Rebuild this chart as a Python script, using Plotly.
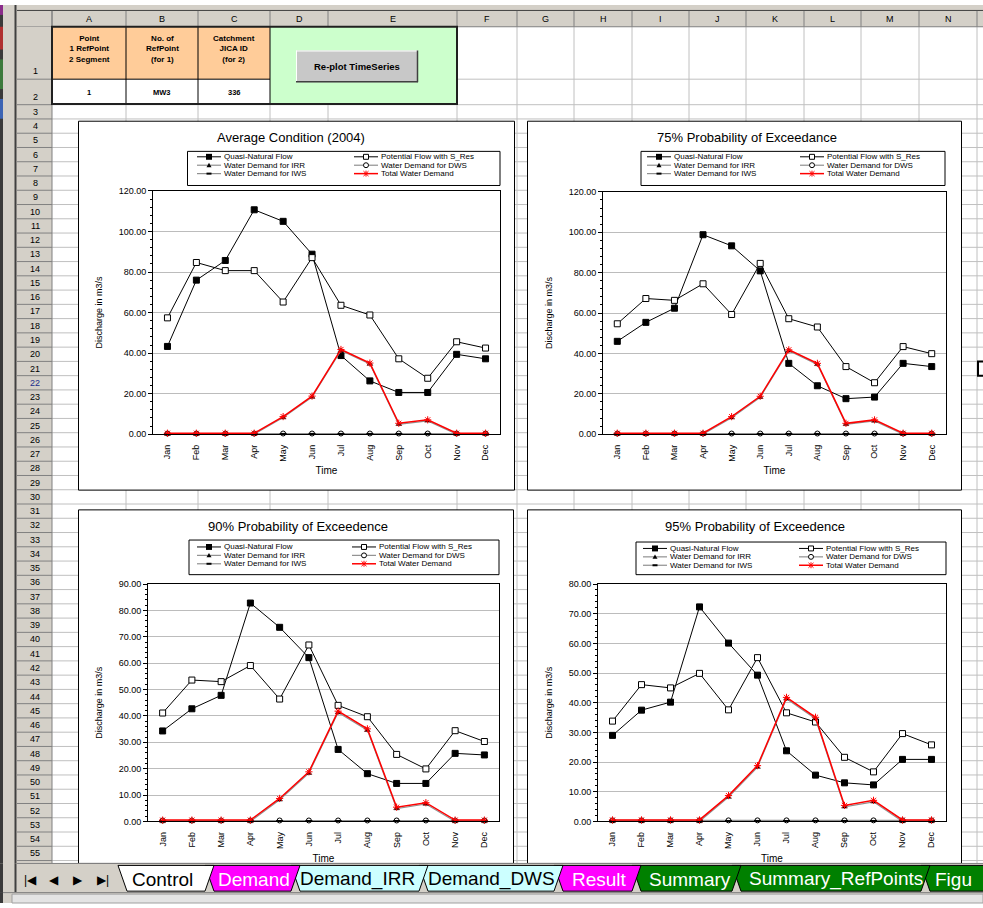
import plotly.graph_objects as go

# ---------------------------------------------------------------- data
months = ["Jan", "Feb", "Mar", "Apr", "May", "Jun",
          "Jul", "Aug", "Sep", "Oct", "Nov", "Dec"]

avg_natural = [43.3, 76.0, 85.7, 110.7, 105.0, 88.8, 38.8, 26.3, 20.6, 20.6, 39.4, 37.2]
avg_potential = [57.4, 84.7, 80.7, 80.7, 65.2, 87.1, 63.6, 58.8, 37.2, 27.6, 45.6, 42.5]

p75_natural = [46.0, 55.4, 62.4, 98.8, 93.3, 80.9, 35.1, 24.0, 17.6, 18.4, 35.1, 33.5]
p75_potential = [54.7, 67.2, 66.3, 74.5, 59.3, 84.6, 57.2, 53.1, 33.5, 25.5, 43.4, 39.9]

p90_natural = [34.3, 42.7, 47.8, 82.8, 73.6, 62.1, 27.3, 18.1, 14.4, 14.4, 25.8, 25.2]
p90_potential = [41.1, 53.6, 53.0, 59.1, 46.4, 66.9, 44.0, 39.7, 25.4, 19.9, 34.4, 30.3]

p95_natural = [29.0, 37.5, 40.2, 72.3, 60.1, 49.3, 23.8, 15.6, 13.0, 12.3, 20.9, 20.9]
p95_potential = [33.8, 46.1, 45.0, 49.9, 37.6, 55.2, 36.6, 33.5, 21.6, 16.7, 29.6, 25.8]

demand_irr = [0.0, 0.0, 0.0, 0.0, 8.2, 18.3, 41.3, 34.6, 4.9, 6.6, 0.0, 0.0]
demand_dws = [0.35, 0.35, 0.35, 0.35, 0.35, 0.35, 0.35, 0.35, 0.35, 0.35, 0.35, 0.35]
demand_iws = [0.15, 0.15, 0.15, 0.15, 0.15, 0.15, 0.15, 0.15, 0.15, 0.15, 0.15, 0.15]
demand_total = [0.5, 0.5, 0.5, 0.5, 8.7, 18.8, 41.8, 35.1, 5.4, 7.1, 0.5, 0.5]

series_names = ["Quasi-Natural Flow", "Potential Flow with S_Res",
                "Water Demand for IRR", "Water Demand for DWS",
                "Water Demand for IWS", "Total Water Demand"]

chart_titles = ["Average Condition (2004)", "75% Probability of Exceedance",
                "90% Probability of Exceedence", "95% Probability of Exceedence"]

col_letters = list("ABCDEFGHIJKLMN")
sheet_tabs = ["Control", "Demand", "Demand_IRR", "Demand_DWS", "Result",
              "Summary", "Summary_RefPoints", "Figu"]

# ---------------------------------------------------------------- helpers
W, H = 983, 908
FONT = "Liberation Sans, Arial, sans-serif"
HEAD = "#d4d0c8"
GRID = "#c0c0c0"


def X(p):
    return p / W


def Y(p):
    return 1 - p / H


shapes, annos = [], []


def rect(x0, y0, x1, y1, fill="rgba(0,0,0,0)", line=None, lw=1, layer="below"):
    shapes.append(dict(type="rect", xref="paper", yref="paper",
                       x0=X(x0), x1=X(x1), y0=Y(y1), y1=Y(y0),
                       fillcolor=fill, layer=layer,
                       line=dict(color=line if line else "rgba(0,0,0,0)",
                                 width=lw if line else 0)))


def seg(x0, y0, x1, y1, color, lw=1, layer="below"):
    shapes.append(dict(type="line", xref="paper", yref="paper",
                       x0=X(x0), x1=X(x1), y0=Y(y0), y1=Y(y1),
                       line=dict(color=color, width=lw), layer=layer))


def poly(pts, fill="rgba(0,0,0,0)", line=None, lw=1, layer="above", close=True):
    d = "M " + " L ".join(f"{X(a):.5f},{Y(b):.5f}" for a, b in pts)
    if close:
        d += " Z"
    shapes.append(dict(type="path", xref="paper", yref="paper", path=d,
                       fillcolor=fill, layer=layer,
                       line=dict(color=line if line else "rgba(0,0,0,0)",
                                 width=lw if line else 0)))


def label(x, y, s, size, color="black", xa="center", ya="middle", bold=False):
    annos.append(dict(xref="paper", yref="paper", x=X(x), y=Y(y),
                      text=f"<b>{s}</b>" if bold else s, showarrow=False,
                      xanchor=xa, yanchor=ya, borderpad=0,
                      font=dict(family=FONT, size=size, color=color)))


# ---------------------------------------------------------------- worksheet
col_edges = [52, 126, 198, 270, 328, 457, 517, 574, 632, 689, 746, 804, 861, 919, 977]
row_edges = [22, 75] + [100.8 + 14.42 * k for k in range(54)]
SHEET_BOTTOM = 868

# window frame at left / top
rect(0, 0, 983, 6, fill=HEAD)
rect(0, 0, 17, 908, fill=HEAD)
rect(0, 0, 3, 908, fill="#3a3a3a")
rect(0, 0, 3, 10, fill="#8a2c8a")
rect(0, 22, 3, 45, fill="#b03030")
rect(0, 55, 3, 85, fill="#3c7a3c")
rect(0, 95, 3, 115, fill="#3c64b4")
seg(15.5, 0, 15.5, 908, "#404040", 2)
seg(17, 5.5, 983, 5.5, "#404040", 1)

# cell grid
for e in col_edges[1:]:
    seg(e, 22, e, SHEET_BOTTOM, GRID)
for e in row_edges[1:]:
    seg(52, e, 983, e, GRID)

# column headers
rect(17, 6, 983, 22, fill=HEAD)
for e in col_edges:
    seg(e, 6, e, 22, "#808080")
seg(17, 22, 983, 22, "#808080")
for i, name in enumerate(col_letters):
    label((col_edges[i] + col_edges[i + 1]) / 2, 14, name, 9)

# row headers
rect(17, 22, 52, SHEET_BOTTOM, fill=HEAD)
seg(52, 6, 52, SHEET_BOTTOM, "#808080")
for e in row_edges[1:]:
    seg(17, e, 52, e, "#808080")
for r in range(1, len(row_edges)):
    top, bot = row_edges[r - 1], row_edges[r]
    if r <= 2:
        yy, ya = bot - 2, "bottom"
    else:
        yy, ya = (top + bot) / 2, "middle"
    label(35, yy, str(r), 9, color="#1c2e8c" if r == 22 else "black", ya=ya)

# active cell outline just right of column N on row 22
rect(978, row_edges[20], 995, row_edges[21], line="black", lw=2)

# control block A1:E2
rect(52, 22, 270, 75, fill="#ffcc99")
rect(52, 75, 270, 100, fill="white")
rect(270, 22, 457, 100, fill="#ccffcc")
for e in (126, 198, 270):
    seg(e, 22, e, 100, "black", 1)
seg(52, 75, 270, 75, "black", 1)
rect(52, 22, 457, 100, line="#202020", lw=2)
label(89, 44, "Point<br>1 RefPoint<br>2 Segment", 8, bold=True)
label(162, 44, "No. of<br>RefPoint<br>(for 1)", 8, bold=True)
label(234, 44, "Catchment<br>JICA ID<br>(for 2)", 8, bold=True)
label(89, 88, "1", 7.5, bold=True)
label(162, 88, "MW3", 7.5, bold=True)
label(234, 88, "336", 7.5, bold=True)
# button
rect(296, 46, 418, 78, fill="#c8c8c8")
seg(296, 46.5, 418, 46.5, "white")
seg(296.5, 46, 296.5, 78, "white")
seg(296, 77.5, 418, 77.5, "#404040", 1.5)
seg(417.5, 46, 417.5, 78, "#404040", 1.5)
label(357, 62, "Re-plot TimeSeries", 9.5, bold=True)

# ---------------------------------------------------------------- charts
charts = [
    dict(title=chart_titles[0], natural=avg_natural, potential=avg_potential,
         ymax=120, dtick=20, box=(78.5, 117.5, 514.5, 490.5),
         plot=(153, 188, 500, 434), title_at=(291, 134),
         legend_box=(187.5, 148, 500, 182.5), rows=(153.5, 162, 170.5),
         sym=(197, 354), txt=(223, 380)),
    dict(title=chart_titles[1], natural=p75_natural, potential=p75_potential,
         ymax=120, dtick=20, box=(527.5, 117.5, 961.5, 490.5),
         plot=(603, 189, 946, 434), title_at=(747, 134),
         legend_box=(641, 148, 945, 182.5), rows=(153.5, 162, 170.5),
         sym=(647, 800), txt=(673, 826)),
    dict(title=chart_titles[2], natural=p90_natural, potential=p90_potential,
         ymax=90, dtick=10, box=(78.5, 510.5, 513.5, 868),
         plot=(148, 585.5, 499, 825.5), title_at=(298, 527),
         legend_box=(189, 541, 499, 576), rows=(548, 556.5, 565),
         sym=(197, 352), txt=(223, 378)),
    dict(title=chart_titles[3], natural=p95_natural, potential=p95_potential,
         ymax=80, dtick=10, box=(527.5, 510.5, 961.5, 868),
         plot=(598, 585.5, 946, 825.5), title_at=(755, 527),
         legend_box=(636, 543, 946, 576), rows=(549.5, 558, 566.5),
         sym=(643, 799), txt=(669, 825)),
]

GRAY_LINE = "#909090"
styles = [
    dict(line=dict(color="black", width=1),
         marker=dict(symbol="square", size=6, color="black", line=dict(color="black", width=1))),
    dict(line=dict(color="black", width=1),
         marker=dict(symbol="square", size=6, color="white", line=dict(color="black", width=1))),
    dict(line=dict(color=GRAY_LINE, width=1.2),
         marker=dict(symbol="triangle-up", size=5, color="black", line=dict(color="black", width=0.5))),
    dict(line=dict(color=GRAY_LINE, width=1.2),
         marker=dict(symbol="circle", size=5, color="white", line=dict(color="black", width=1))),
    dict(line=dict(color=GRAY_LINE, width=1.2),
         marker=dict(symbol="line-ew", size=5, color="black", line=dict(color="black", width=2))),
    dict(line=dict(color="red", width=1.5),
         marker=dict(symbol="asterisk", size=6, color="red", line=dict(color="red", width=1))),
]

fig = go.Figure()
layout_axes = {}

for i, ch in enumerate(charts, start=1):
    xr = "x" if i == 1 else f"x{i}"
    yr = "y" if i == 1 else f"y{i}"
    xkey = "xaxis" if i == 1 else f"xaxis{i}"
    ykey = "yaxis" if i == 1 else f"yaxis{i}"

    # chart frame
    bx0, by0, bx1, by1 = ch["box"]
    rect(bx0, by0, bx1, by1, fill="white", line="black", lw=1)

    values = [ch["natural"], ch["potential"], demand_irr, demand_dws,
              demand_iws, demand_total]
    for name, vals, st in zip(series_names, values, styles):
        fig.add_trace(go.Scatter(x=months, y=vals, xaxis=xr, yaxis=yr,
                                 mode="lines+markers", name=name,
                                 line=st["line"], marker=st["marker"],
                                 cliponaxis=False, showlegend=False,
                                 hoverinfo="skip"))

    px0, py0, px1, py1 = ch["plot"]
    tick_font = dict(family=FONT, size=9, color="black")
    layout_axes[xkey] = dict(
        domain=[X(px0), X(px1)], anchor=yr, type="category",
        categoryorder="array", categoryarray=months, range=[-0.5, 11.5],
        showline=True, mirror=True, linecolor="black", linewidth=1,
        showgrid=False, zeroline=False, ticks="", tickangle=-90,
        tickfont=tick_font, ticklabelstandoff=6,
        title=dict(text="Time", font=dict(family=FONT, size=10, color="black"),
                   standoff=6),
        fixedrange=True)
    layout_axes[ykey] = dict(
        domain=[Y(py1), Y(py0)], anchor=xr, range=[0, ch["ymax"]],
        tick0=0, dtick=ch["dtick"], tickformat=".2f",
        ticks="outside", ticklen=4, tickwidth=1, tickcolor="black",
        tickfont=tick_font, showgrid=True, gridcolor="#bcbcbc", gridwidth=1,
        showline=True, mirror=True, linecolor="black", linewidth=1,
        zeroline=False,
        minor=dict(ticks="outside", ticklen=2, tickcolor="black",
                   dtick=ch["dtick"] / 5, showgrid=False),
        title=dict(text="Discharge in m3/s",
                   font=dict(family=FONT, size=9, color="black"), standoff=14),
        fixedrange=True)

    # chart title
    label(ch["title_at"][0], ch["title_at"][1], ch["title"], 13)

    # legend box with two columns of entries
    lx0, ly0, lx1, ly1 = ch["legend_box"]
    rect(lx0, ly0, lx1, ly1, fill="white", line="black", lw=1, layer="above")
    for k, (name, st) in enumerate(zip(series_names, styles)):
        r, c = divmod(k, 2)
        cy = ch["rows"][r]
        sx0 = ch["sym"][c]
        sx1 = sx0 + 24
        cx = (sx0 + sx1) / 2
        seg(sx0, cy, sx1, cy, st["line"]["color"], st["line"]["width"], layer="above")
        if k == 0:
            rect(cx - 3, cy - 3, cx + 3, cy + 3, fill="black", layer="above")
        elif k == 1:
            rect(cx - 2.5, cy - 2.5, cx + 2.5, cy + 2.5, fill="white",
                 line="black", lw=1, layer="above")
        elif k == 2:
            poly([(cx - 2.5, cy + 2), (cx + 2.5, cy + 2), (cx, cy - 2.5)],
                 fill="black")
        elif k == 3:
            shapes.append(dict(type="circle", xref="paper", yref="paper",
                               x0=X(cx - 2.5), x1=X(cx + 2.5),
                               y0=Y(cy + 2.5), y1=Y(cy - 2.5),
                               fillcolor="white", layer="above",
                               line=dict(color="black", width=1)))
        elif k == 4:
            seg(cx - 2.5, cy, cx + 2.5, cy, "black", 2, layer="above")
        else:
            poly([(cx - 2.5, cy - 2.5), (cx + 2.5, cy + 2.5)], line="red",
                 lw=1, close=False)
            poly([(cx - 2.5, cy + 2.5), (cx + 2.5, cy - 2.5)], line="red",
                 lw=1, close=False)
            poly([(cx, cy - 3), (cx, cy + 3)], line="red", lw=1, close=False)
        label(ch["txt"][c], cy, name, 8, xa="left")

# ---------------------------------------------------------------- sheet tab bar
rect(0, SHEET_BOTTOM, 983, 908, fill=HEAD, layer="above")
seg(17, SHEET_BOTTOM, 983, SHEET_BOTTOM, "#808080", 1, layer="above")
rect(0, SHEET_BOTTOM, 3, 908, fill="#3a3a3a", layer="above")
seg(15.5, SHEET_BOTTOM, 15.5, 908, "#404040", 2, layer="above")

# navigation arrows
for xx, s in ((30, "|◀"), (54, "◀"), (78, "▶"), (103, "▶|")):
    label(xx, 885, s, 12)

TAB_TOP, TAB_BOT, SL = 870, 896, 9
tab_edges = [118, 214, 300, 428, 563, 641, 741, 930, 1010]
tab_centers = [162, 254, 357, 492, 599, 690, 836]
tab_fill = ["white", "#ff00ff", "#ccffff", "#ccffff", "#ff00ff",
            "#008000", "#008000", "#008000"]
tab_text = ["black", "white", "black", "black", "white",
            "white", "white", "white"]
order = list(range(len(sheet_tabs) - 1, 0, -1)) + [0]
for t in order:
    left = tab_edges[t] - (0 if t == 0 else SL)
    right = tab_edges[t + 1]
    poly([(left, TAB_TOP), (right, TAB_TOP), (right - SL, TAB_BOT),
          (left + SL, TAB_BOT)], fill=tab_fill[t], line="black", lw=1)
for t, name in enumerate(sheet_tabs):
    if t == len(sheet_tabs) - 1:
        label(tab_edges[t] + 4, 884, name, 19, color=tab_text[t], xa="left")
    else:
        label(tab_centers[t], 884, name, 19, color=tab_text[t])

# status strip
rect(0, 897, 983, 908, fill=HEAD, layer="above")
seg(0, 897.5, 983, 897.5, "#808080", 1, layer="above")
rect(12, 899, 983, 908, fill="#e4e4e4", line="#a0a0a0", lw=1, layer="above")
rect(0, 897, 3, 908, fill="#3a3a3a", layer="above")

fig.update_layout(
    width=W, height=H, autosize=False,
    margin=dict(l=0, r=0, t=0, b=0),
    paper_bgcolor="white", plot_bgcolor="white",
    showlegend=False, shapes=shapes, annotations=annos,
    font=dict(family=FONT, color="black"),
    **layout_axes,
)

fig.write_html("out.html", config={"displayModeBar": False})
